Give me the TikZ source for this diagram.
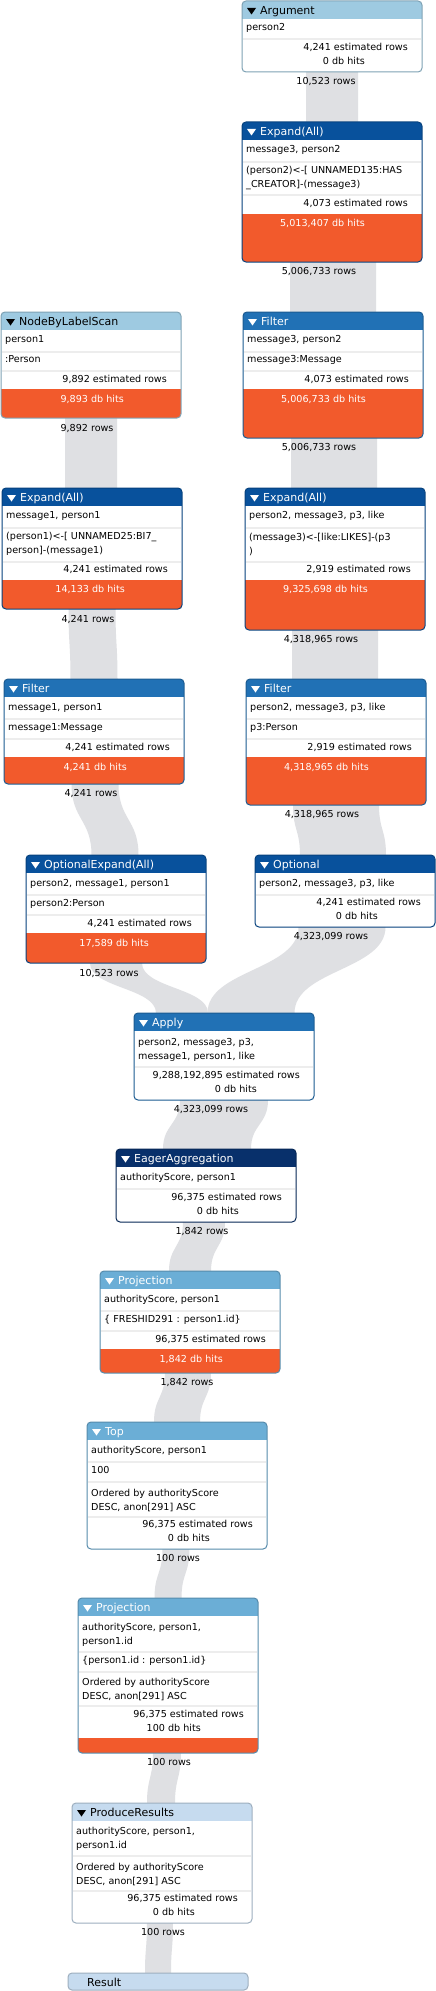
\documentclass[tikz,border=0pt]{standalone}
\usepackage{fontspec}
\setmainfont{DejaVu Sans}
\usepackage{tikz}
\usetikzlibrary{calc,backgrounds}

\definecolor{hdrA}{HTML}{C6DBEF}
\definecolor{hdrB}{HTML}{9ECAE1}
\definecolor{hdrC}{HTML}{6BAED6}
\definecolor{hdrD}{HTML}{2171B5}
\definecolor{hdrE}{HTML}{08519C}
\definecolor{hdrF}{HTML}{08306B}
\definecolor{hitsorange}{HTML}{F25A2C}
\definecolor{flowgray}{HTML}{DFE0E3}
\definecolor{sepgray}{HTML}{EDEDED}

% operator box: name, left, top, height, header colour, title colour, title, start of cost bar
\newcommand\opbox[8]{%
  \node[opframe, minimum height=#4pt] (#1) at (#2,#3) {};
  \begin{scope}
    \clip[rounded corners=4pt] (#1.north west) rectangle (#1.south east);
    \fill[#5] (#1.north west) rectangle ($(#1.north east)+(0,18)$);
    \ifnum#8>0 \fill[hitsorange] ($(#1.north west)+(0,#8)$) rectangle (#1.south east);\fi
  \end{scope}
  \fill[#6] ($(#1.north west)+(5,7)$) -- ++(9,0) -- ++(-4.5,6.5) -- cycle;
  \node[optitle, text=#6] (#1-title) at ($(#1.north west)+(18,13.5)$) {#7};
  \draw[#5!80!black, line width=1pt, rounded corners=4pt]
    (#1.north west) rectangle (#1.south east);
}
\newcommand\oprow[3]{\node[optext] (#1-t#2) at ($(#1.north west)+(4,#2)$) {#3};}
\newcommand\optwo[3]{\node[optwo] (#1-t#2) at ($(#1.north west)+(4,#2)$) {#3};}
\newcommand\opsep[2]{\draw[opsep] ($(#1.north west)+(1,#2)$) -- ($(#1.north east)+(-1,#2)$);}
\newcommand\opest[3]{\node[optext, anchor=east] (#1-est) at ($(#1.north east)+(-14,#2)$) {#3};}
\newcommand\ophit[4]{\node[optext, anchor=east, text=#4] (#1-hits) at ($(#1.north east)+(-57,#2)$) {#3};}
\newcommand\oprows[4]{\node[oprows] (#1-rows) at ($(#1.south)+(#2,#3)$) {#4};}
% row band: from, dx, to, dx, width
\newcommand\flow[5]{%
  \fill[flowband] let \p1=($(#1.south)+(#2,0)$), \p2=($(#3.north)+(#4,0)$),
    \p3=($(\p1)!0.5!(\p2)$) in
    (\x1-#5*0.5pt,\y1) .. controls (\x1-#5*0.5pt,\y3) and (\x2-#5*0.5pt,\y3) .. (\x2-#5*0.5pt,\y2)
    -- (\x2+#5*0.5pt,\y2) .. controls (\x2+#5*0.5pt,\y3) and (\x1+#5*0.5pt,\y3) .. (\x1+#5*0.5pt,\y1)
    -- cycle;}

\begin{document}
\begin{tikzpicture}[
  x=1pt, y=-1pt,
  opframe/.style={anchor=north west, minimum width=180pt, inner sep=0pt,
                  outer sep=0pt, fill=white, rounded corners=4pt},
  optitle/.style={anchor=base west, inner sep=0pt, font=\fontsize{11}{13}\selectfont},
  optext/.style={anchor=west, inner sep=0pt, font=\fontsize{9.6}{14}\selectfont,
                 text height=7pt, text depth=2.2pt},
  optwo/.style={anchor=west, inner sep=0pt, font=\fontsize{9.6}{14}\selectfont, align=left},
  opsep/.style={draw=sepgray, line width=1.5pt},
  oprows/.style={inner sep=0pt, font=\fontsize{9.6}{14}\selectfont,
                 text height=7pt, text depth=2.2pt},
  flowband/.style={fill=flowgray},
]
  \useasboundingbox (0,0) rectangle (436,1991);

  \opbox{arg}{242}{1}{71}{hdrB}{black}{Argument}{0}
  \oprow{arg}{27}{person2}
  \opsep{arg}{38}
  \opest{arg}{47}{4,241 estimated rows}
  \ophit{arg}{61}{0 db hits}{black}
  \oprows{arg}{-6}{10}{10,523 rows}

  \opbox{exp1}{242}{122}{140}{hdrE}{white}{Expand(All)}{92}
  \oprow{exp1}{28}{message3, person2}
  \opsep{exp1}{40}
  \optwo{exp1}{56}{(person2)<-[ UNNAMED135:HAS\\\_CREATOR]-(message3)}
  \opsep{exp1}{73}
  \opest{exp1}{82}{4,073 estimated rows}
  \ophit{exp1}{102}{5,013,407 db hits}{white}
  \oprows{exp1}{-13}{10}{5,006,733 rows}

  \opbox{nbl}{1}{312}{106}{hdrB}{black}{NodeByLabelScan}{77}
  \oprow{nbl}{28}{person1}
  \opsep{nbl}{40}
  \oprow{nbl}{48}{:Person}
  \opsep{nbl}{59}
  \opest{nbl}{68}{9,892 estimated rows}
  \ophit{nbl}{88}{9,893 db hits}{white}
  \oprows{nbl}{-4}{11}{9,892 rows}

  \opbox{fil1}{243}{312}{126}{hdrD}{white}{Filter}{77}
  \oprow{fil1}{28}{message3, person2}
  \opsep{fil1}{40}
  \oprow{fil1}{48}{message3:Message}
  \opsep{fil1}{59}
  \opest{fil1}{68}{4,073 estimated rows}
  \ophit{fil1}{88}{5,006,733 db hits}{white}
  \oprows{fil1}{-14}{10}{5,006,733 rows}

  \opbox{exp2}{2}{488}{121}{hdrE}{white}{Expand(All)}{92}
  \oprow{exp2}{28}{message1, person1}
  \opsep{exp2}{40}
  \optwo{exp2}{56}{(person1)<-[ UNNAMED25:BI7\_\\person]-(message1)}
  \opsep{exp2}{74}
  \opest{exp2}{82}{4,241 estimated rows}
  \ophit{exp2}{102}{14,133 db hits}{white}
  \oprows{exp2}{-4}{11}{4,241 rows}

  \opbox{exp3}{245}{488}{142}{hdrE}{white}{Expand(All)}{92}
  \oprow{exp3}{28}{person2, message3, p3, like}
  \opsep{exp3}{40}
  \optwo{exp3}{56}{(message3)<-[like:LIKES]-(p3\\)}
  \opsep{exp3}{74}
  \opest{exp3}{82}{2,919 estimated rows}
  \ophit{exp3}{102}{9,325,698 db hits}{white}
  \oprows{exp3}{-14}{10}{4,318,965 rows}

  \opbox{fil2}{4}{679}{105}{hdrD}{white}{Filter}{78}
  \oprow{fil2}{29}{message1, person1}
  \opsep{fil2}{40}
  \oprow{fil2}{49}{message1:Message}
  \opsep{fil2}{60}
  \opest{fil2}{69}{4,241 estimated rows}
  \ophit{fil2}{89}{4,241 db hits}{white}
  \oprows{fil2}{-3}{10}{4,241 rows}

  \opbox{fil3}{246}{679}{126}{hdrD}{white}{Filter}{78}
  \oprow{fil3}{29}{person2, message3, p3, like}
  \opsep{fil3}{40}
  \oprow{fil3}{49}{p3:Person}
  \opsep{fil3}{60}
  \opest{fil3}{69}{2,919 estimated rows}
  \ophit{fil3}{89}{4,318,965 db hits}{white}
  \oprows{fil3}{-14}{10}{4,318,965 rows}

  \opbox{oexp}{26}{855}{108}{hdrE}{white}{OptionalExpand(All)}{78}
  \oprow{oexp}{29}{person2, message1, person1}
  \opsep{oexp}{40}
  \oprow{oexp}{49}{person2:Person}
  \opsep{oexp}{60}
  \opest{oexp}{69}{4,241 estimated rows}
  \ophit{oexp}{89}{17,589 db hits}{white}
  \oprows{oexp}{-7}{11}{10,523 rows}

  \opbox{opt}{255}{855}{72}{hdrE}{white}{Optional}{0}
  \oprow{opt}{29}{person2, message3, p3, like}
  \opsep{opt}{40}
  \opest{opt}{48}{4,241 estimated rows}
  \ophit{opt}{62}{0 db hits}{black}
  \oprows{opt}{-14}{10}{4,323,099 rows}

  \opbox{apply}{134}{1013}{87}{hdrD}{white}{Apply}{0}
  \optwo{apply}{37}{person2, message3, p3,\\message1, person1, like}
  \opsep{apply}{54}
  \opest{apply}{63}{9,288,192,895 estimated rows}
  \ophit{apply}{77}{0 db hits}{black}
  \oprows{apply}{-13}{10}{4,323,099 rows}

  \opbox{eager}{116}{1149}{73}{hdrF}{white}{EagerAggregation}{0}
  \oprow{eager}{29}{authorityScore, person1}
  \opsep{eager}{40}
  \opest{eager}{49}{96,375 estimated rows}
  \ophit{eager}{63}{0 db hits}{black}
  \oprows{eager}{-4}{10}{1,842 rows}

  \opbox{proj1}{100}{1271}{102}{hdrC}{white}{Projection}{78}
  \oprow{proj1}{29}{authorityScore, person1}
  \opsep{proj1}{40}
  \oprow{proj1}{49}{\{ FRESHID291 : person1.id\}}
  \opsep{proj1}{60}
  \opest{proj1}{69}{96,375 estimated rows}
  \ophit{proj1}{89}{1,842 db hits}{white}
  \oprows{proj1}{-3}{10}{1,842 rows}

  \opbox{topk}{87}{1422}{127}{hdrC}{white}{Top}{0}
  \oprow{topk}{29}{authorityScore, person1}
  \opsep{topk}{40}
  \oprow{topk}{49}{100}
  \opsep{topk}{60}
  \optwo{topk}{78}{Ordered by authorityScore\\DESC, anon[291] ASC}
  \opsep{topk}{95}
  \opest{topk}{103}{96,375 estimated rows}
  \ophit{topk}{117}{0 db hits}{black}
  \oprows{topk}{1}{10}{100 rows}

  \opbox{proj2}{78}{1598}{155}{hdrC}{white}{Projection}{140}
  \optwo{proj2}{37}{authorityScore, person1,\\person1.id}
  \opsep{proj2}{54}
  \oprow{proj2}{63}{\{person1.id : person1.id\}}
  \opsep{proj2}{74}
  \optwo{proj2}{91}{Ordered by authorityScore\\DESC, anon[291] ASC}
  \opsep{proj2}{108}
  \opest{proj2}{117}{96,375 estimated rows}
  \ophit{proj2}{131}{100 db hits}{black}
  \oprows{proj2}{1}{10}{100 rows}

  \opbox{prod}{72}{1803}{120}{hdrA}{black}{ProduceResults}{0}
  \optwo{prod}{36}{authorityScore, person1,\\person1.id}
  \opsep{prod}{53}
  \optwo{prod}{71}{Ordered by authorityScore\\DESC, anon[291] ASC}
  \opsep{prod}{88}
  \opest{prod}{96}{96,375 estimated rows}
  \ophit{prod}{110}{0 db hits}{black}
  \oprows{prod}{1}{10}{100 rows}

  \node[opframe, fill=hdrA, draw=hdrA!80!black, line width=1pt,
        minimum height=17pt] (result) at (68,1973) {};
  \node[optitle] (result-title) at ($(result.north west)+(19,13)$) {Result};

  \begin{pgfonlayer}{background}
    \fill[white] (0,0) rectangle (436,1991);
    \flow{arg}{0}{exp1}{0}{52}
    \flow{exp1}{1}{fil1}{0}{86}
    \flow{nbl}{0}{exp2}{-1}{52}
    \flow{fil1}{1}{exp3}{-1}{86}
    \flow{exp2}{0}{fil2}{0}{47}
    \flow{exp3}{0}{fil3}{-1}{86}
    \flow{fil2}{1}{oexp}{-1}{47}
    \flow{fil3}{0}{opt}{-2}{86}
    \flow{oexp}{0}{apply}{-42}{52}
    \flow{opt}{-3}{apply}{27}{87}
    \flow{apply}{0}{eager}{1}{88}
    \flow{eager}{-2}{proj1}{0}{42}
    \flow{proj1}{-2}{topk}{0}{46}
    \flow{topk}{-1}{proj2}{0}{27}
    \flow{proj2}{-1}{prod}{-1}{28}
    \flow{prod}{-2}{result}{0}{26}
  \end{pgfonlayer}
\end{tikzpicture}
\end{document}
